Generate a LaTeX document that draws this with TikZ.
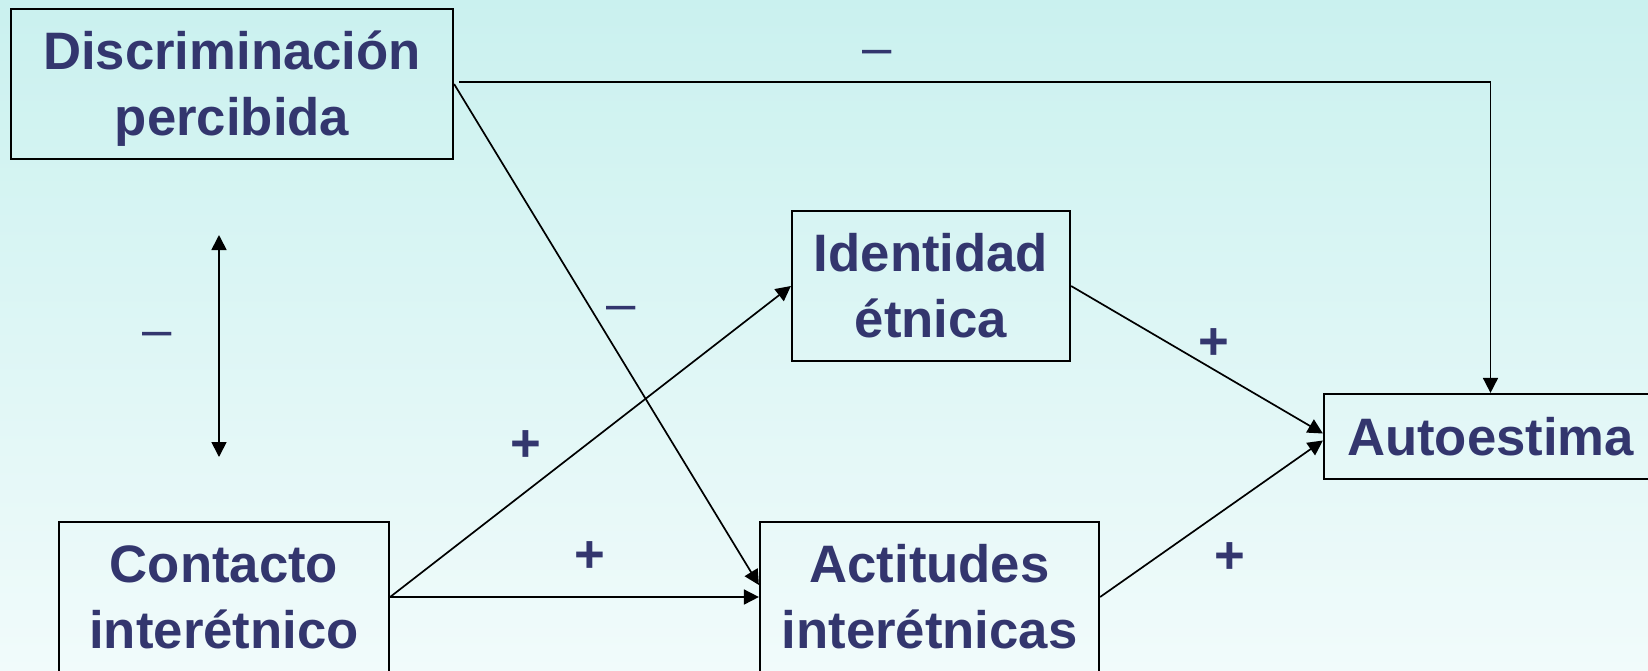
\documentclass[tikz,border=0pt]{standalone}
\usepackage{fontspec}
\setmainfont{Liberation Sans}
\usetikzlibrary{arrows.meta}

\definecolor{navy}{RGB}{51,54,110}
\definecolor{bgtop}{RGB}{202,241,239}
\definecolor{bgbot}{RGB}{241,251,251}

\tikzset{
  varbox/.style={draw,line width=2.2pt,inner sep=0pt,align=center,text=navy,
    font=\fontsize{52.7}{66}\selectfont\bfseries,
    text height=103.7pt,text depth=0pt},
  signlabel/.style={text=navy,anchor=base,inner sep=0pt,
    font=\fontsize{52.7}{66}\selectfont}
}

\begin{document}
\begin{tikzpicture}[x=1pt,y=-1pt]

      \shade[top color=bgtop,bottom color=bgbot] (0,0) rectangle (1648,670);
      \useasboundingbox (0,0) rectangle (1648,670);

      \begin{scope}[every node/.style={varbox}]
        \node[minimum width=442,minimum height=150] (disc) at (232,84)   {Discriminación\\percibida};
        \node[minimum width=330,minimum height=150] (cont) at (224,597)  {Contacto\\interétnico};
        \node[minimum width=278,minimum height=150] (iden) at (931,286)  {Identidad\\étnica};
        \node[minimum width=339,minimum height=150] (acti) at (929.5,597) {Actitudes\\interétnicas};
        \node[minimum width=333,minimum height=85,text height=37.7pt] (auto) at (1490.5,436.5) {Autoestima};
      \end{scope}

      \coordinate (dtop) at (219,235);
      \coordinate (dbot) at (219,457);

      \begin{scope}[every edge/.style={draw,line width=1.7pt,-{Triangle[length=15pt,width=15pt]}}]
        \path (disc.east)  edge ([yshift=12pt]acti.west);
        \path (cont.east)  edge (iden.west);
        \path (cont.east)  edge (acti.west);
        \path (iden.east)  edge ([yshift=3pt]auto.west);
        \path (acti.east)  edge ([yshift=-4pt]auto.west);
        \path (dtop) edge[{Triangle[length=15pt,width=15pt]}-{Triangle[length=15pt,width=15pt]}] (dbot);
      \end{scope}
      \draw[line width=1.7pt,-{Triangle[length=15pt,width=15pt]}] ([xshift=5pt,yshift=2pt]disc.east) -| (auto.north);

      % signs of the paths
      \begin{scope}[every node/.style={signlabel}]
        \node (m1) at (877,65)  {–};
        \node (m2) at (621,321) {–};
        \node (m3) at (157,347) {–};
        \node[font=\fontsize{52.7}{66}\selectfont\bfseries] (p1) at (525.5,461) {+};
        \node[font=\fontsize{52.7}{66}\selectfont\bfseries] (p2) at (590,572)   {+};
        \node[font=\fontsize{52.7}{66}\selectfont\bfseries] (p3) at (1214,359)  {+};
        \node[font=\fontsize{52.7}{66}\selectfont\bfseries] (p4) at (1230,573)  {+};
      \end{scope}

    \end{tikzpicture}
\end{document}
